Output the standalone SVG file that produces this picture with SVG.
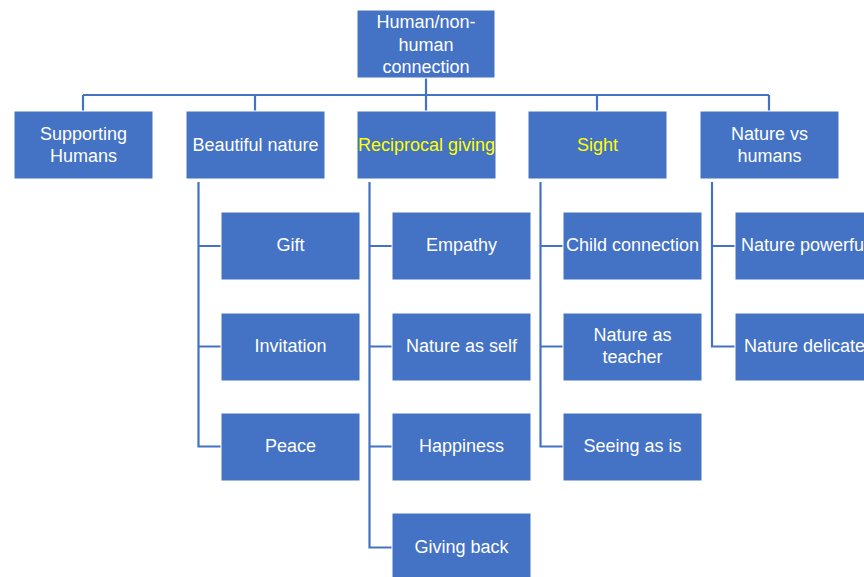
<svg xmlns="http://www.w3.org/2000/svg" width="864" height="577" viewBox="0 0 864 577">
<style>
.box{fill:#4472C4;stroke:#ffffff;stroke-width:1}
.t{font-family:"Liberation Sans","Open Sans",sans-serif;font-size:18px;fill:#ffffff;text-anchor:middle;dominant-baseline:central}
.y{fill:#FFFF00}
.c{fill:none;stroke:#4472C4;stroke-width:2.2}
</style>
<rect width="864" height="577" fill="#ffffff"/>
<g id="connectors">
<path class="c" d="M426 78V95M83 95H769M83 95V111M255 95V111M426 95V111M597 95V111M769 95V111"/>
<path class="c" d="M198.5 182V446.5H221M198.5 246H221M198.5 346.5H221"/>
<path class="c" d="M369.5 182V547.5H392M369.5 246H392M369.5 346.5H392M369.5 446.5H392"/>
<path class="c" d="M540.5 182V446.5H563M540.5 246H563M540.5 346.5H563"/>
<path class="c" d="M712 182V346.5H735M712 246H735"/>
</g>
<g id="root"><rect class="box" x="357" y="10" width="138" height="68"/><text class="t" x="426" y="22">Human/non-</text><text class="t" x="426" y="44.5">human</text><text class="t" x="426" y="67">connection</text></g>
<g id="supporting"><rect class="box" x="14" y="111" width="139" height="68"/><text class="t" x="83.5" y="134">Supporting</text><text class="t" x="83.5" y="156">Humans</text></g>
<g id="beautiful"><rect class="box" x="186" y="111" width="139" height="68"/><text class="t" x="255.5" y="145">Beautiful nature</text></g>
<g id="reciprocal"><rect class="box" x="357" y="111" width="139" height="68"/><text class="t y" x="426.5" y="145">Reciprocal giving</text></g>
<g id="sight"><rect class="box" x="528" y="111" width="139" height="68"/><text class="t y" x="597.5" y="145">Sight</text></g>
<g id="naturevs"><rect class="box" x="700" y="111" width="139" height="68"/><text class="t" x="769.5" y="134">Nature vs</text><text class="t" x="769.5" y="156">humans</text></g>
<g id="gift"><rect class="box" x="221" y="212" width="139" height="68"/><text class="t" x="290.5" y="245">Gift</text></g>
<g id="invitation"><rect class="box" x="221" y="313" width="139" height="68"/><text class="t" x="290.5" y="346">Invitation</text></g>
<g id="peace"><rect class="box" x="221" y="413" width="139" height="68"/><text class="t" x="290.5" y="446">Peace</text></g>
<g id="empathy"><rect class="box" x="392" y="212" width="139" height="68"/><text class="t" x="461.5" y="245">Empathy</text></g>
<g id="natureself"><rect class="box" x="392" y="313" width="139" height="68"/><text class="t" x="461.5" y="346">Nature as self</text></g>
<g id="happiness"><rect class="box" x="392" y="413" width="139" height="68"/><text class="t" x="461.5" y="446">Happiness</text></g>
<g id="givingback"><rect class="box" x="392" y="513" width="139" height="68"/><text class="t" x="461.5" y="547">Giving back</text></g>
<g id="child"><rect class="box" x="563" y="212" width="139" height="68"/><text class="t" x="632.5" y="245">Child connection</text></g>
<g id="teacher"><rect class="box" x="563" y="313" width="139" height="68"/><text class="t" x="632.5" y="335">Nature as</text><text class="t" x="632.5" y="357">teacher</text></g>
<g id="seeing"><rect class="box" x="563" y="413" width="139" height="68"/><text class="t" x="632.5" y="446">Seeing as is</text></g>
<g id="powerful"><rect class="box" x="735" y="212" width="139" height="68"/><text class="t" x="804.5" y="245">Nature powerful</text></g>
<g id="delicate"><rect class="box" x="735" y="313" width="139" height="68"/><text class="t" x="804.5" y="346">Nature delicate</text></g>
</svg>
